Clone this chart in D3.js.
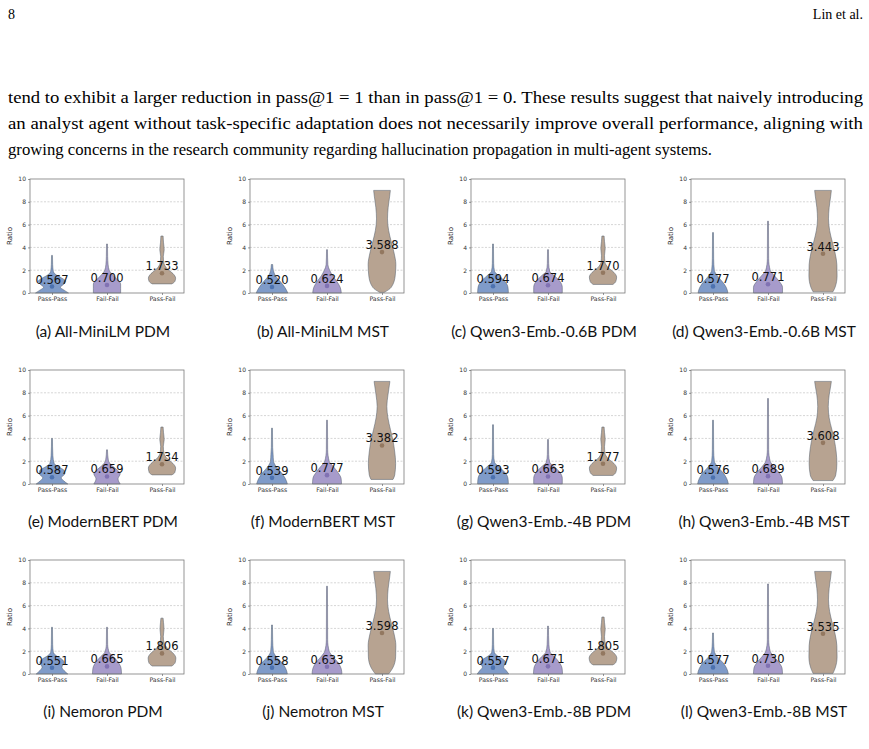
<!DOCTYPE html>
<html><head><meta charset="utf-8">
<script src="https://cdn.jsdelivr.net/npm/d3@7"></script>
<style>body{margin:0;background:#fff}</style>
</head><body>
<svg id="c" width="869" height="749"></svg>
<script>
// ---------- data ----------
const categories = ["Pass-Pass", "Fail-Fail", "Pass-Fail"];
const yTicks = [0, 2, 4, 6, 8, 10];
const captions = [
  "(a) All-MiniLM PDM", "(b) All-MiniLM MST", "(c) Qwen3-Emb.-0.6B PDM", "(d) Qwen3-Emb.-0.6B MST",
  "(e) ModernBERT PDM", "(f) ModernBERT MST", "(g) Qwen3-Emb.-4B PDM", "(h) Qwen3-Emb.-4B MST",
  "(i) Nemoron PDM", "(j) Nemotron MST", "(k) Qwen3-Emb.-8B PDM", "(l) Qwen3-Emb.-8B MST"
];
const passPassMean = [0.567, 0.520, 0.594, 0.577, 0.587, 0.539, 0.593, 0.576, 0.551, 0.558, 0.557, 0.577];
const failFailMean = [0.700, 0.624, 0.674, 0.771, 0.659, 0.777, 0.663, 0.689, 0.665, 0.633, 0.671, 0.730];
const passFailMean = [1.733, 3.588, 1.770, 3.443, 1.734, 3.382, 1.777, 3.608, 1.806, 3.598, 1.805, 3.535];

// density profiles: [ratio value, relative density]
const passPassDensity = [
  [[0,0.75],[0.25,0.55],[0.5,0.38],[0.8,0.55],[1.05,0.62],[1.3,0.45],[1.6,0.18],[1.9,0.06],[2.5,0.03],[3.3,0.02]],
  [[0,0.72],[0.5,0.58],[1.0,0.38],[1.5,0.16],[2.0,0.06],[2.5,0.03]],
  [[0,0.7],[0.5,0.68],[1.0,0.55],[1.5,0.28],[1.9,0.07],[2.6,0.03],[4.3,0.02]],
  [[0,0.68],[0.5,0.6],[1.0,0.42],[1.5,0.2],[2.0,0.06],[3.0,0.03],[5.3,0.02]],
  [[0,0.72],[0.3,0.52],[0.55,0.42],[0.9,0.58],[1.2,0.55],[1.5,0.3],[1.8,0.1],[2.5,0.04],[4.0,0.02]],
  [[0,0.7],[0.5,0.6],[1.0,0.42],[1.5,0.2],[2.0,0.07],[2.6,0.05],[3.2,0.03],[4.9,0.02]],
  [[0,0.7],[0.5,0.68],[1.0,0.55],[1.5,0.28],[1.9,0.07],[2.6,0.03],[5.2,0.02]],
  [[0,0.7],[0.5,0.62],[1.0,0.45],[1.5,0.22],[2.0,0.06],[3.0,0.03],[5.6,0.02]],
  [[0,0.72],[0.3,0.55],[0.6,0.45],[1.0,0.55],[1.3,0.45],[1.6,0.2],[1.9,0.06],[2.6,0.03],[4.1,0.02]],
  [[0,0.7],[0.5,0.62],[1.0,0.45],[1.5,0.2],[2.0,0.06],[3.0,0.03],[4.3,0.02]],
  [[0,0.72],[0.3,0.6],[0.6,0.48],[1.0,0.58],[1.3,0.45],[1.6,0.2],[1.9,0.06],[2.6,0.03],[4.0,0.02]],
  [[0,0.7],[0.5,0.62],[1.0,0.45],[1.5,0.2],[2.0,0.06],[2.8,0.03],[3.6,0.02]]
];
const failFailDensity = [
  [[0,0.62],[0.4,0.62],[0.8,0.62],[1.2,0.45],[1.6,0.25],[2.0,0.1],[2.5,0.05],[3.2,0.03],[4.3,0.02]],
  [[0,0.65],[0.5,0.6],[1.0,0.45],[1.5,0.26],[2.0,0.12],[2.5,0.04],[3.8,0.02]],
  [[0,0.65],[0.5,0.65],[1.0,0.55],[1.5,0.3],[1.9,0.08],[2.6,0.03],[3.8,0.02]],
  [[0,0.66],[0.5,0.66],[1.0,0.52],[1.5,0.3],[2.0,0.1],[3.0,0.03],[6.3,0.02]],
  [[0,0.6],[0.45,0.5],[0.9,0.6],[1.3,0.42],[1.7,0.18],[2.1,0.06],[3.0,0.02]],
  [[0,0.66],[0.5,0.64],[1.0,0.5],[1.5,0.3],[2.0,0.1],[3.0,0.03],[5.6,0.02]],
  [[0,0.65],[0.5,0.65],[1.0,0.55],[1.5,0.3],[1.9,0.08],[2.6,0.03],[3.9,0.02]],
  [[0,0.66],[0.5,0.64],[1.0,0.5],[1.5,0.28],[2.0,0.1],[3.0,0.03],[7.5,0.02]],
  [[0,0.66],[0.5,0.64],[1.0,0.52],[1.5,0.3],[1.9,0.1],[2.6,0.03],[4.1,0.02]],
  [[0,0.68],[0.5,0.64],[1.0,0.5],[1.5,0.28],[2.0,0.1],[3.0,0.03],[7.7,0.02]],
  [[0,0.66],[0.5,0.64],[1.0,0.52],[1.5,0.3],[1.9,0.1],[2.6,0.04],[4.2,0.02]],
  [[0,0.66],[0.5,0.64],[1.0,0.5],[1.5,0.28],[2.0,0.1],[3.0,0.03],[7.9,0.02]]
];
const passFailDensity = [
  [[0.8,0.45],[1.0,0.58],[1.3,0.62],[1.7,0.5],[2.1,0.25],[2.6,0.09],[3.2,0.06],[3.8,0.1],[4.4,0.07],[5.0,0.05]],
  [[0.05,0.1],[0.5,0.42],[1.5,0.6],[2.5,0.63],[3.5,0.55],[4.5,0.42],[5.5,0.3],[6.5,0.25],[7.5,0.28],[8.5,0.35],[9.0,0.38]],
  [[0.75,0.45],[1.0,0.58],[1.4,0.62],[1.8,0.5],[2.2,0.25],[2.7,0.09],[3.3,0.07],[3.9,0.1],[4.5,0.07],[5.0,0.05]],
  [[0.1,0.45],[0.5,0.55],[1.5,0.64],[2.5,0.63],[3.5,0.55],[4.5,0.42],[5.5,0.3],[6.5,0.25],[7.5,0.28],[8.5,0.35],[9.0,0.38]],
  [[0.8,0.45],[1.0,0.58],[1.4,0.62],[1.8,0.5],[2.2,0.25],[2.7,0.09],[3.3,0.06],[3.9,0.1],[4.5,0.07],[5.0,0.05]],
  [[0.4,0.5],[0.8,0.58],[1.8,0.62],[2.8,0.58],[3.8,0.5],[4.8,0.38],[5.8,0.27],[6.8,0.22],[7.8,0.27],[8.6,0.33],[9.0,0.36]],
  [[0.75,0.45],[1.0,0.58],[1.4,0.62],[1.8,0.5],[2.2,0.25],[2.7,0.09],[3.3,0.07],[3.9,0.1],[4.5,0.07],[5.0,0.05]],
  [[0.3,0.45],[0.8,0.58],[1.8,0.63],[2.8,0.6],[3.8,0.52],[4.8,0.4],[5.8,0.28],[6.8,0.24],[7.8,0.28],[8.6,0.35],[9.0,0.38]],
  [[0.7,0.45],[1.0,0.6],[1.4,0.63],[1.8,0.52],[2.2,0.28],[2.7,0.1],[3.3,0.06],[3.9,0.09],[4.5,0.07],[4.9,0.05]],
  [[0.0,0.3],[0.5,0.48],[1.5,0.62],[2.5,0.63],[3.5,0.55],[4.5,0.42],[5.5,0.3],[6.5,0.25],[7.5,0.28],[8.5,0.35],[9.0,0.38]],
  [[0.8,0.45],[1.0,0.58],[1.4,0.63],[1.8,0.52],[2.2,0.27],[2.7,0.1],[3.3,0.07],[3.9,0.1],[4.5,0.07],[5.0,0.05]],
  [[0.05,0.45],[0.5,0.55],[1.5,0.64],[2.5,0.63],[3.5,0.55],[4.5,0.42],[5.5,0.3],[6.5,0.25],[7.5,0.28],[8.5,0.35],[9.0,0.38]]
];

const headerLeft = "8";
const headerRight = "Lin et al.";
const bodyLines = [
  "tend to exhibit a larger reduction in pass@1 = 1 than in pass@1 = 0. These results suggest that naively introducing",
  "an analyst agent without task-specific adaptation does not necessarily improve overall performance, aligning with",
  "growing concerns in the research community regarding hallucination propagation in multi-agent systems."
];

// ---------- styles ----------
const fills = ["#7f9bc9", "#a79bcb", "#b7a391"];
const dots = ["#4c72b0", "#8172b3", "#937860"];

const svg = d3.select("#c");

// page header and body text
const serif = "'Liberation Serif', 'DejaVu Serif', serif";
svg.append("text").attr("x", 8).attr("y", 19).attr("font-family", serif).attr("font-size", 14).text(headerLeft);
svg.append("text").attr("x", 863).attr("y", 19).attr("text-anchor", "end").attr("font-family", serif).attr("font-size", 14).text(headerRight);
const lineLens = [855, 855, 704];
bodyLines.forEach((t, i) => {
  svg.append("text").attr("x", 8).attr("y", 103 + i * 26)
    .attr("font-family", serif).attr("font-size", 16.5)
    .attr("textLength", lineLens[i]).attr("lengthAdjust", "spacingAndGlyphs")
    .text(t);
});

// panel layout
const colLeft = [30, 250, 471, 691];
const rowTop = [179, 370, 560];
const pw = 154, ph = 114;
const capY = [337, 527, 717];
const sans = "'DejaVu Sans', sans-serif";

captions.forEach((cap, p) => {
  const r = Math.floor(p / 4), c = p % 4;
  const g = svg.append("g").attr("transform", `translate(${colLeft[c]},${rowTop[r]})`);
  const x = d3.scaleLinear().domain([-0.4, 2.4]).range([0, pw]);
  const y = d3.scaleLinear().domain([0, 10]).range([ph, 0]);
  const hw = 0.4;

  // grid
  g.append("g").selectAll("line").data(yTicks.filter(v => v > 0 && v < 10)).join("line")
    .attr("x1", 0).attr("x2", pw).attr("y1", d => y(d)).attr("y2", d => y(d))
    .attr("stroke", "#b8b8b8").attr("stroke-width", 0.6).attr("stroke-dasharray", "2,1.5");

  // violins
  const series = [passPassDensity[p], failFailDensity[p], passFailDensity[p]];
  const means = [passPassMean[p], failFailMean[p], passFailMean[p]];
  series.forEach((prof, k) => {
    const area = d3.area()
      .y(d => y(d[0]))
      .x0(d => x(k - d[1] * hw))
      .x1(d => x(k + d[1] * hw))
      .curve(d3.curveMonotoneY);
    g.append("path").datum(prof).attr("d", area)
      .attr("fill", fills[k]).attr("stroke", "#55606e").attr("stroke-opacity", 0.75).attr("stroke-width", 0.7);
  });
  series.forEach((prof, k) => {
    g.append("circle").attr("cx", x(k)).attr("cy", y(means[k])).attr("r", 2.3).attr("fill", dots[k]);
    g.append("text").attr("x", x(k)).attr("y", y(means[k]) - 3)
      .attr("text-anchor", "middle").attr("font-family", sans).attr("font-size", 11.5).attr("fill", "#111")
      .text(means[k].toFixed(3));
  });

  // frame
  g.append("rect").attr("x", 0).attr("y", 0).attr("width", pw).attr("height", ph)
    .attr("fill", "none").attr("stroke", "#7a7a7a").attr("stroke-width", 0.8);

  // y axis
  const ya = g.append("g").call(d3.axisLeft(y).tickValues(yTicks).tickSize(2).tickPadding(2));
  ya.select(".domain").remove();
  ya.selectAll("line").attr("stroke", "#555").attr("stroke-width", 0.6);
  ya.selectAll("text").attr("font-family", sans).attr("font-size", 6).attr("fill", "#333");
  // x axis
  const xa = g.append("g").attr("transform", `translate(0,${ph})`)
    .call(d3.axisBottom(x).tickValues([0, 1, 2]).tickFormat(i => categories[i]).tickSize(2).tickPadding(2));
  xa.select(".domain").remove();
  xa.selectAll("line").attr("stroke", "#555").attr("stroke-width", 0.6);
  xa.selectAll("text").attr("font-family", sans).attr("font-size", 6.2).attr("fill", "#333");

  g.append("text").attr("transform", `translate(-18,${ph / 2}) rotate(-90)`)
    .attr("text-anchor", "middle").attr("font-family", sans).attr("font-size", 7).attr("fill", "#222").text("Ratio");

  svg.append("text").attr("x", colLeft[c] + 73).attr("y", capY[r])
    .attr("text-anchor", "middle").attr("font-family", "Lato, 'Open Sans', sans-serif").attr("font-size", 15.5).attr("fill", "#111")
    .text(cap);
});
</script>
</body></html>
